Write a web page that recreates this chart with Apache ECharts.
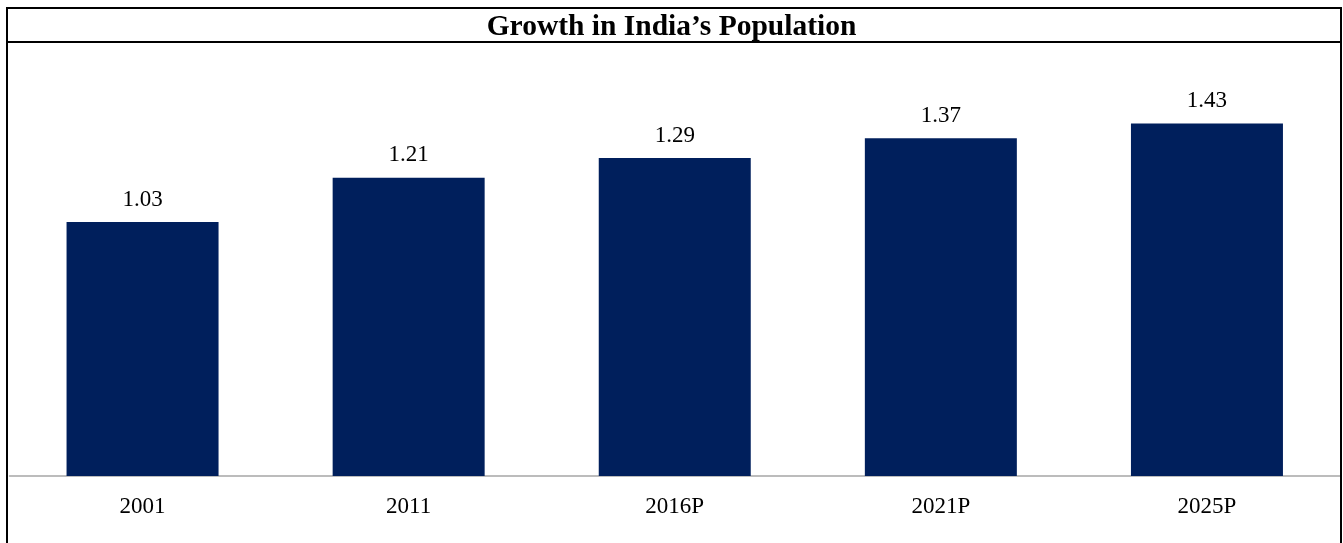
<!DOCTYPE html>
<html>
<head>
<meta charset="utf-8">
<script src="https://cdn.jsdelivr.net/npm/echarts@6/dist/echarts.min.js"></script>
<style>
html,body{margin:0;padding:0;background:#fff;}
#chart{width:1343px;height:543px;}
</style>
</head>
<body>
<div id="chart"></div>
<script>
const titleText = "Growth in India\u2019s Population";
const categories = ["2001", "2011", "2016P", "2021P", "2025P"];
const populationValues = [1.03, 1.21, 1.29, 1.37, 1.43];

const chart = echarts.init(document.getElementById('chart'), null, {renderer: 'canvas'});
const serif = '"Liberation Serif", "Times New Roman", serif';
chart.setOption({
  animation: false,
  backgroundColor: '#ffffff',
  title: {
    text: titleText,
    left: 'center',
    top: 10.5,
    padding: [2, 5],
    textStyle: {fontFamily: serif, fontWeight: 'bold', fontSize: 29.5, color: '#000'}
  },
  graphic: [
    {type: 'rect', shape: {x: 7, y: 8, width: 1334, height: 560}, style: {fill: 'none', stroke: '#000', lineWidth: 2}, z: 100},
    {type: 'line', shape: {x1: 7, y1: 42, x2: 1341, y2: 42}, style: {stroke: '#000', lineWidth: 2}, z: 100}
  ],
  grid: {left: 9.5, right: 3, top: 81.6, bottom: 67, containLabel: false},
  xAxis: {
    type: 'category',
    data: categories,
    axisLine: {show: true, lineStyle: {color: '#A6A6A6', width: 1.5}},
    axisTick: {show: false},
    axisLabel: {fontFamily: serif, fontSize: 23, color: '#000', margin: 19}
  },
  yAxis: {
    type: 'value',
    min: 0, max: 1.6,
    show: false,
    splitLine: {show: false}
  },
  series: [{
    type: 'bar',
    data: populationValues,
    barWidth: 152,
    itemStyle: {color: '#001F5C'},
    label: {
      show: true,
      position: 'top',
      distance: 11,
      fontFamily: serif,
      fontSize: 23,
      color: '#000',
      formatter: p => p.value.toFixed(2)
    }
  }]
});
</script>
</body>
</html>
